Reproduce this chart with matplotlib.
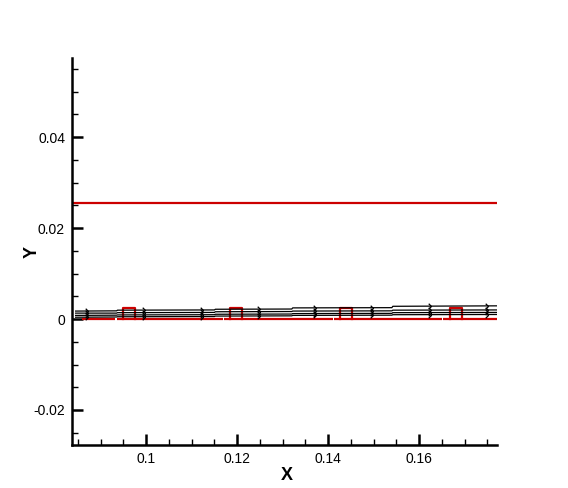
import numpy as np
import matplotlib
matplotlib.use("Agg")
import matplotlib.pyplot as plt
from matplotlib.path import Path

plt.rcParams['font.family'] = ['Liberation Sans', 'DejaVu Sans']

# Streamlines (x breakpoints, y values)
line_x = [0.0845, 0.0935, 0.0937, 0.1150, 0.1152, 0.1320, 0.1322, 0.1540, 0.1542, 0.1771]
line_top = [0.00175, 0.00180, 0.00195, 0.00200, 0.00215, 0.00220, 0.00245, 0.00250, 0.00280, 0.00290]
line_2 = [0.00130, 0.00130, 0.00140, 0.00145, 0.00160, 0.00165, 0.00175, 0.00180, 0.00195, 0.00200]
line_3 = [0.00080, 0.00085, 0.00090, 0.00095, 0.00105, 0.00110, 0.00120, 0.00125, 0.00140, 0.00145]
line_4 = [0.00040, 0.00045, 0.00050, 0.00055, 0.00065, 0.00070, 0.00080, 0.00085, 0.00095, 0.00100]
streamlines = [line_top, line_2, line_3, line_4]
arrow_x = [0.0873, 0.0998, 0.1124, 0.1250, 0.1374, 0.1499, 0.1626, 0.1751]

# Red geometry
upper_wall_y = 0.0255
wall_segments = [(0.0859, 0.0932), (0.0935, 0.1168), (0.1171, 0.1410), (0.1413, 0.1650), (0.1653, 0.1771)]
block_left = [0.0949, 0.1185, 0.1426, 0.1668]
block_width = 0.0026
block_height = 0.00235

fig = plt.figure(figsize=(5.68, 4.88), dpi=100)
ax = fig.add_axes([72/568, 43/488, 425/568, 387/488])
ax.set_xlim(0.0837, 0.1771)
ax.set_ylim(-0.0277, 0.0574)

red = '#cc0000'
ax.axhline(upper_wall_y, color=red, lw=1.6)
for a, b in wall_segments:
    ax.plot([a, b], [0, 0], color=red, lw=1.6, solid_capstyle='butt')
for xl in block_left:
    ax.plot([xl, xl, xl + block_width, xl + block_width],
            [0, block_height, block_height, 0], color=red, lw=1.6)

arrow = Path([(-1, 1), (0, 0), (-1, -1)], [Path.MOVETO, Path.LINETO, Path.LINETO])
for ys in streamlines:
    ax.plot(line_x, ys, color='black', lw=0.9)
    ay = np.interp(arrow_x, line_x, ys)
    ax.plot(arrow_x, ay, linestyle='none', marker=arrow, markersize=4,
            markerfacecolor='none', markeredgecolor='black', markeredgewidth=0.9)

for s in ['top', 'right']:
    ax.spines[s].set_visible(False)
for s in ['left', 'bottom']:
    ax.spines[s].set_linewidth(1.8)

ax.set_xticks([0.1, 0.12, 0.14, 0.16])
ax.set_xticklabels(['0.1', '0.12', '0.14', '0.16'])
ax.set_yticks([-0.02, 0, 0.02, 0.04])
ax.set_yticklabels(['-0.02', '0', '0.02', '0.04'])
ax.set_xticks(np.arange(0.085, 0.1771, 0.005), minor=True)
ax.set_yticks(np.arange(-0.025, 0.0574, 0.005), minor=True)
ax.tick_params(which='major', direction='in', length=8, width=1.8, labelsize=10, pad=5)
ax.tick_params(which='minor', direction='in', length=4, width=1.0)

ax.set_xlabel('X', fontsize=13, fontweight='bold', va='center')
ax.set_ylabel('Y', fontsize=13, fontweight='bold', va='center')
ax.xaxis.set_label_coords(0.506, -0.08)
ax.yaxis.set_label_coords(-0.094, 0.5)

fig.savefig('out.png', dpi=100)
